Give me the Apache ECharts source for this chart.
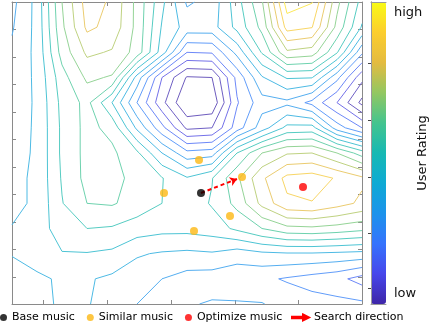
<!DOCTYPE html>
<html><head><meta charset="utf-8">
<script src="https://cdn.jsdelivr.net/npm/echarts@6/dist/echarts.min.js"></script>
<style>html,body{margin:0;padding:0;background:#fff}#c{width:432px;height:326px}</style>
</head><body><div id="c"></div>
<script>
// ---- rating surface sampled on a grid (x: 0..350 left->right, y: 0..302 top->bottom) ----
const xNodes = [0,25,50,75,100,125,150,175,200,225,250,275,300,325,350];
const yNodes = [0,25.17,50.33,75.5,100.67,125.83,151,176.17,201.33,226.5,251.67,276.83,302];
const zRow0  = [4.7,6.33,10.0,12.45,11.85,9.7,7.25,4.85,5.35,7.6,9.9,14.5,14.05,10.3,7.6];
const zRow1  = [4.9,6.3,9.8,12.2,11.7,9.7,6.9,5.6,5.6,7.3,9.3,13.4,13.05,9.7,6.9];
const zRow2  = [5.2,6.25,9.4,11.2,10.9,9.6,6.5,3.0,3.1,5.3,8.1,10.8,10.5,8.1,4.2];
const zRow3  = [5.3,6.2,8.6,10.2,9.9,5.6,2.0,-0.1,0.0,3.3,5.9,7.1,7.05,4.3,1.3];
const zRow4  = [5.4,6.15,8.3,9.3,7.0,4.0,1.3,-1.0,-0.8,2.9,4.6,4.75,3.7,2.0,-0.3];
const zRow5  = [5.5,6.15,8.2,9.3,8.7,5.8,3.3,0.8,1.0,3.5,5.5,7.3,7.4,4.5,3.0];
const zRow6  = [5.6,6.15,8.2,9.3,9.2,8.2,6.0,4.3,4.5,8.0,10.0,10.9,11.0,10.0,8.5];
const zRow7  = [5.7,6.2,8.1,9.3,9.4,8.6,8.05,7.1,7.95,9.8,11.8,13.3,13.5,12.9,12.2];
const zRow8  = [5.7,6.2,7.95,9.0,9.1,8.6,8.0,7.4,8.1,9.3,11.3,12.8,12.95,12.4,11.8];
const zRow9  = [6.05,6.5,7.5,8.0,7.9,7.5,7.3,7.3,7.5,8.2,9.0,9.7,9.8,9.6,9.3];
const zRow10 = [6.05,6.5,6.95,6.95,6.8,6.1,5.9,5.8,5.9,5.5,5.8,5.9,5.9,5.8,5.7];
const zRow11 = [5.6,5.8,6.15,6.1,5.8,5.5,5.0,4.6,4.5,4.3,4.2,3.9,3.6,3.3,2.6];
const zRow12 = [5.55,5.8,6.1,6.05,5.7,5.0,4.9,4.9,5.1,5.1,5.05,4.6,4.4,4.3,4.2];
const contourLevels = [0,1,2,3,4,5,6,7,8,9,10,11,12,13,14];
const colorLow = 0.8, colorHigh = 14.8;

// ---- ticks ----
const xTicks = [31,95,159,223,286];
const yTicks = [27.5,55,82.5,110,137.5,165,192.5,220,247.5,275];
const cbarTicks = [0.053,0.235,0.42,0.609,0.798];
const cbarLabelValues = [0.036,0.964];
const cbarLabelTexts = ['low','high'];

// ---- points ----
const baseMusic = [[189,191]];
const similarMusic = [[187,158],[152,191],[230,175],[218,214],[182,229]];
const optimizeMusic = [[291,185]];
const searchDirection = [[189,191],[225,177]];

const parula = ['#3e26a8','#4746eb','#3573fd','#1c93eb','#0eaad4','#17b9b3','#44c48e','#93c761','#e4bb40','#fcce2e','#f9fb15'];
function hex(c){return [parseInt(c.slice(1,3),16),parseInt(c.slice(3,5),16),parseInt(c.slice(5,7),16)];}
function parulaAt(t,lighten){
  t=Math.max(0,Math.min(1,t));
  const s=t*(parula.length-1), i=Math.min(parula.length-2,Math.floor(s)), f=s-i;
  const a=hex(parula[i]), b=hex(parula[i+1]);
  return 'rgb('+a.map((v,k)=>{const c=v+(b[k]-v)*f;return Math.round(c+(255-c)*lighten);}).join(',')+')';
}

const Z=[zRow0,zRow1,zRow2,zRow3,zRow4,zRow5,zRow6,zRow7,zRow8,zRow9,zRow10,zRow11,zRow12];

function contourSegments(level){
  const segs=[];
  const E=[[0,1],[1,2],[2,3],[3,0]];
  for(let j=0;j<yNodes.length-1;j++){
    for(let i=0;i<xNodes.length-1;i++){
      const z=[Z[j][i],Z[j][i+1],Z[j+1][i+1],Z[j+1][i]];
      const p=[[xNodes[i],yNodes[j]],[xNodes[i+1],yNodes[j]],[xNodes[i+1],yNodes[j+1]],[xNodes[i],yNodes[j+1]]];
      const up=z.map(v=>v>=level);
      const ep=(e)=>{const a=E[e][0],b=E[e][1];const t=(level-z[a])/(z[b]-z[a]);
        return [p[a][0]+t*(p[b][0]-p[a][0]),p[a][1]+t*(p[b][1]-p[a][1])];};
      const cr=[];
      for(let e=0;e<4;e++){if(up[E[e][0]]!==up[E[e][1]])cr.push(e);}
      if(cr.length===2){segs.push([ep(cr[0]),ep(cr[1])]);}
      else if(cr.length===4){
        const c=(z[0]+z[1]+z[2]+z[3])/4>=level;
        const pairs=(up[0]===c)?[[0,1],[2,3]]:[[3,0],[1,2]];
        pairs.forEach(pr=>segs.push([ep(pr[0]),ep(pr[1])]));
      }
    }
  }
  return segs;
}
function chain(segs){
  const key=pt=>pt[0].toFixed(3)+','+pt[1].toFixed(3);
  const map=new Map();
  segs.forEach((s,idx)=>{[key(s[0]),key(s[1])].forEach(k=>{if(!map.has(k))map.set(k,[]);map.get(k).push(idx);});});
  const used=new Array(segs.length).fill(false);
  const lines=[];
  for(let s=0;s<segs.length;s++){
    if(used[s])continue;
    used[s]=true;
    const line=[segs[s][0],segs[s][1]];
    for(;;){const k=key(line[line.length-1]);const c=(map.get(k)||[]).find(i=>!used[i]);if(c===undefined)break;used[c]=true;const sg=segs[c];line.push(key(sg[0])===k?sg[1]:sg[0]);}
    for(;;){const k=key(line[0]);const c=(map.get(k)||[]).find(i=>!used[i]);if(c===undefined)break;used[c]=true;const sg=segs[c];line.unshift(key(sg[0])===k?sg[1]:sg[0]);}
    lines.push(line);
  }
  return lines;
}

const series=[];
contourLevels.forEach(lv=>{
  series.push({type:'lines',coordinateSystem:'cartesian2d',polyline:true,silent:true,z:2,
    data:chain(contourSegments(lv)).map(l=>({coords:l})),
    lineStyle:{color:parulaAt((lv-colorLow)/(colorHigh-colorLow),0.25),width:1,opacity:1}});
});
series.push({name:'Search direction',type:'lines',coordinateSystem:'cartesian2d',z:4,silent:true,
  data:[{coords:searchDirection}],symbol:['none','arrow'],symbolSize:7,
  itemStyle:{color:'#ff0000'},
  lineStyle:{color:'#ff0000',width:2,type:[4,3],opacity:1}});
series.push({name:'Base music',type:'scatter',data:baseMusic,symbolSize:8,itemStyle:{color:'#000000'},z:5,silent:true});
series.push({name:'Similar music',type:'scatter',data:similarMusic,symbolSize:8,itemStyle:{color:'#fdb813'},z:5,silent:true});
series.push({name:'Optimize music',type:'scatter',data:optimizeMusic,symbolSize:8,itemStyle:{color:'#ff0000'},z:5,silent:true});

const axisCol='#8a8a8a';
function boxAxis(pos,isX,ticks){
  return {type:'value',gridIndex:0,position:pos,min:0,max:isX?350:302,inverse:!isX,
    axisLine:{show:true,onZero:false,lineStyle:{color:axisCol,width:1}},
    axisTick:{show:true,inside:true,length:4,customValues:ticks,lineStyle:{color:axisCol}},
    axisLabel:{show:false,customValues:ticks},splitLine:{show:false}};
}
function cbarEdge(pos){
  return {type:'value',gridIndex:1,position:pos,min:0,max:1,z:10,
    axisLine:{show:true,onZero:false,lineStyle:{color:'#9a9a9a'}},axisTick:{show:false},axisLabel:{show:false},splitLine:{show:false}};
}
const cbarTitleAxis = cbarEdge('right');
cbarTitleAxis.axisLine.show=false;
Object.assign(cbarTitleAxis,{name:'User Rating',nameLocation:'middle',nameRotate:90,nameGap:30,
  nameTextStyle:{fontSize:13,fontFamily:'DejaVu Sans',color:'#111'}});

const chart=echarts.init(document.getElementById('c'),null,{renderer:'canvas'});
chart.setOption({
  animation:false,
  backgroundColor:'#ffffff',
  grid:[{left:12,top:2,width:350,height:302},{left:371,top:2,width:15,height:302}],
  xAxis:[boxAxis('bottom',true,xTicks),boxAxis('top',true,xTicks),cbarEdge('bottom'),cbarEdge('top')],
  yAxis:[boxAxis('left',false,yTicks),boxAxis('right',false,yTicks),
    {type:'value',gridIndex:1,position:'right',min:0,max:1,z:10,
      axisLine:{show:true,lineStyle:{color:'#9a9a9a'}},
      axisTick:{show:true,inside:true,length:3,customValues:cbarTicks,lineStyle:{color:'#444'}},
      axisLabel:{show:true,customValues:cbarLabelValues,margin:8,fontSize:13,fontFamily:'DejaVu Sans',color:'#111',
        formatter:v=>cbarLabelTexts[v>0.5?1:0]},
      splitLine:{show:false}},
    cbarEdge('left'),cbarTitleAxis],
  visualMap:{type:'continuous',min:0,max:1,seriesIndex:[],calculable:false,orient:'vertical',
    left:371,top:2,itemWidth:15,itemHeight:302,padding:0,inRange:{color:parula},z:1},
  legend:[
    {data:['Base music','Similar music','Optimize music'],left:0,top:312,padding:0,itemGap:12,
      icon:'circle',itemWidth:7,itemHeight:7,textStyle:{fontSize:11,fontFamily:'DejaVu Sans',color:'#000'},selectedMode:false},
    {data:[{name:'Search direction',icon:'path://M0,2.4h4v1.6h-4z M6,2.4h4v1.6h-4z M11,0.2l6,3l-6,3z',itemStyle:{color:'#ff0000'}}],
      left:291,top:312,padding:0,itemWidth:17,itemHeight:6,textStyle:{fontSize:11,fontFamily:'DejaVu Sans',color:'#000'},selectedMode:false}
  ],
  series:series
});
</script></body></html>
